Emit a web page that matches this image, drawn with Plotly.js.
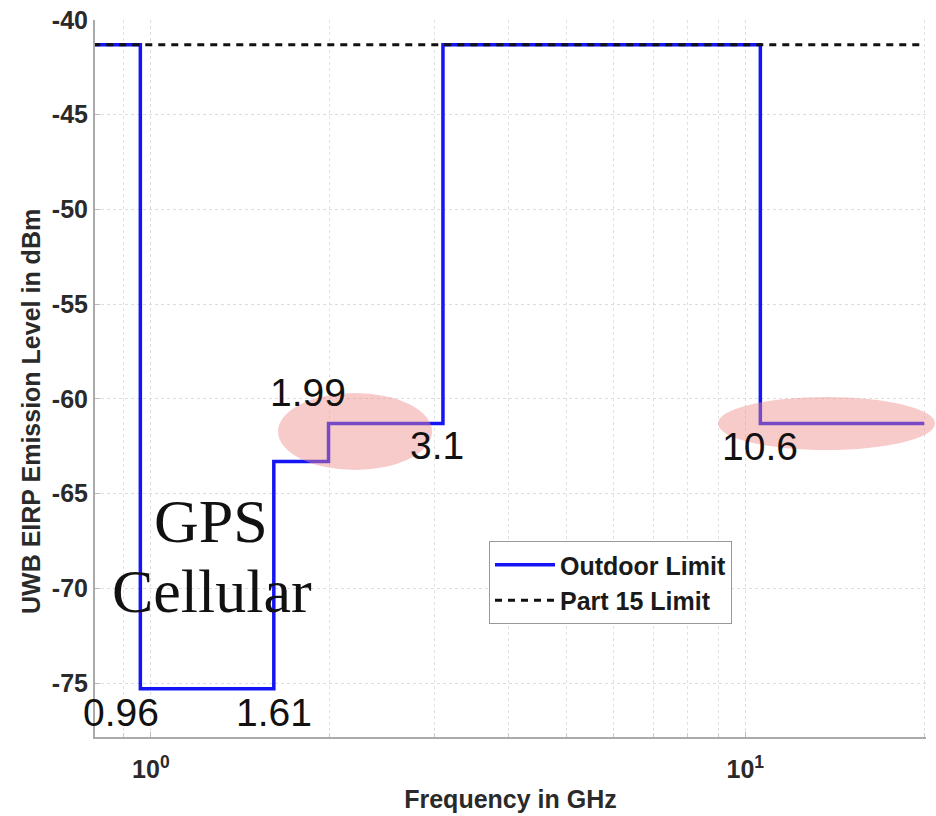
<!DOCTYPE html>
<html>
<head>
<meta charset="utf-8">
<script src="https://cdn.plot.ly/plotly-3.0.1.min.js"></script>
<style>html,body{margin:0;padding:0;background:#fff}#chart{width:936px;height:816px}</style>
</head>
<body>
<div id="chart"></div>
<script>
// Data
const outdoorFreq = [0.8, 0.96, 1.61, 1.99, 3.1, 10.6, 20];
const outdoorLevel = [-41.3, -75.3, -63.3, -61.3, -41.3, -61.3, -61.3];
const part15Freq = [0.8, 20];
const part15Level = [-41.3, -41.3];
const yTickVals = [-75, -70, -65, -60, -55, -50, -45, -40];
const yTickText = ['-75', '-70', '-65', '-60', '-55', '-50', '-45', '-40'];
const xTickVals = [1, 10];
const xTickText = ['10<sup>0</sup>', '10<sup>1</sup>'];
const xMinorVals = [0.9, 2, 3, 4, 5, 6, 7, 8, 9, 20];

const sans = 'Liberation Sans, Arial, sans-serif';
const serif = 'Liberation Serif, Times New Roman, serif';
const tickFont = {family: sans, size: 25, color: '#2a2a2a', weight: 'bold'};
const titleFont = {family: sans, size: 25, color: '#2a2a2a', weight: 'bold'};
const legendFont = {family: sans, size: 25, color: '#1a1a1a', weight: 'bold'};

const traces = [
  {x: outdoorFreq, y: outdoorLevel, type: 'scatter', mode: 'lines', name: 'Outdoor Limit',
   line: {color: '#1414f5', width: 3.5, shape: 'hv'}},
  {x: part15Freq, y: part15Level, type: 'scatter', mode: 'lines', name: 'Part 15 Limit',
   line: {color: '#111', width: 3, dash: '7px,6px'}}
];

const ann = (text, px, py, size, family, extra) => Object.assign({
  text: text, xref: 'paper', yref: 'paper',
  x: (px - 95) / 831, y: (737 - py) / 717,
  xanchor: 'center', yanchor: 'middle', showarrow: false,
  font: {family: family, size: size, color: '#111'}
}, extra || {});

const layout = {
  width: 936, height: 816,
  margin: {l: 95, r: 10, t: 20, b: 79},
  paper_bgcolor: '#fff', plot_bgcolor: '#fff',
  showlegend: true,
  legend: {x: (489 - 95) / 831, y: (737 - 541) / 717, xanchor: 'left', yanchor: 'top',
           bgcolor: '#fff', bordercolor: '#999', borderwidth: 1,
           font: legendFont, tracegroupgap: 0, itemwidth: 60},
  xaxis: {type: 'log', range: [-0.094, 1.304],
          tickvals: xTickVals, ticktext: xTickText,
          ticks: 'inside', ticklen: 5, tickcolor: '#bbb',
          ticklabelstandoff: 9,
          showgrid: true, gridcolor: '#ddd', griddash: 'dot', gridwidth: 1,
          minor: {tickvals: xMinorVals, ticks: 'inside', ticklen: 4, tickcolor: '#ccc',
                  showgrid: true, gridcolor: '#e2e2e2', griddash: 'dot', gridwidth: 1},
          showline: true, linecolor: '#aaa', linewidth: 2, mirror: false,
          zeroline: false, tickfont: tickFont,
          title: {text: 'Frequency in GHz', font: titleFont, standoff: 8}},
  yaxis: {range: [-77.85, -40],
          tickvals: yTickVals, ticktext: yTickText,
          ticks: 'inside', ticklen: 5, tickcolor: '#bbb',
          showgrid: true, gridcolor: '#ddd', griddash: 'dot', gridwidth: 1,
          showline: true, linecolor: '#aaa', linewidth: 2,
          zeroline: false, tickfont: tickFont},
  shapes: [
    {type: 'circle', xref: 'paper', yref: 'paper', layer: 'above',
     x0: (278 - 95) / 831, x1: (432 - 95) / 831, y0: (737 - 470) / 717, y1: (737 - 393) / 717,
     fillcolor: 'rgba(240,140,140,0.45)', line: {width: 0}},
    {type: 'circle', xref: 'paper', yref: 'paper', layer: 'above',
     x0: (718 - 95) / 831, x1: (935 - 95) / 831, y0: (737 - 450) / 717, y1: (737 - 397) / 717,
     fillcolor: 'rgba(240,140,140,0.45)', line: {width: 0}}
  ],
  annotations: [
    ann('UWB EIRP Emission Level in dBm', 31, 412, 25, sans,
        {textangle: -90, font: titleFont}),
    ann('0.96', 121, 712, 39, sans),
    ann('1.61', 274, 712, 39, sans),
    ann('1.99', 308, 392, 39, sans),
    ann('3.1', 437, 445, 39, sans),
    ann('10.6', 760, 447, 39, sans),
    ann('GPS', 211, 521, 62, serif),
    ann('Cellular', 212, 591, 62, serif)
  ]
};

Plotly.newPlot('chart', traces, layout, {displayModeBar: false, staticPlot: true});
</script>
</body>
</html>
